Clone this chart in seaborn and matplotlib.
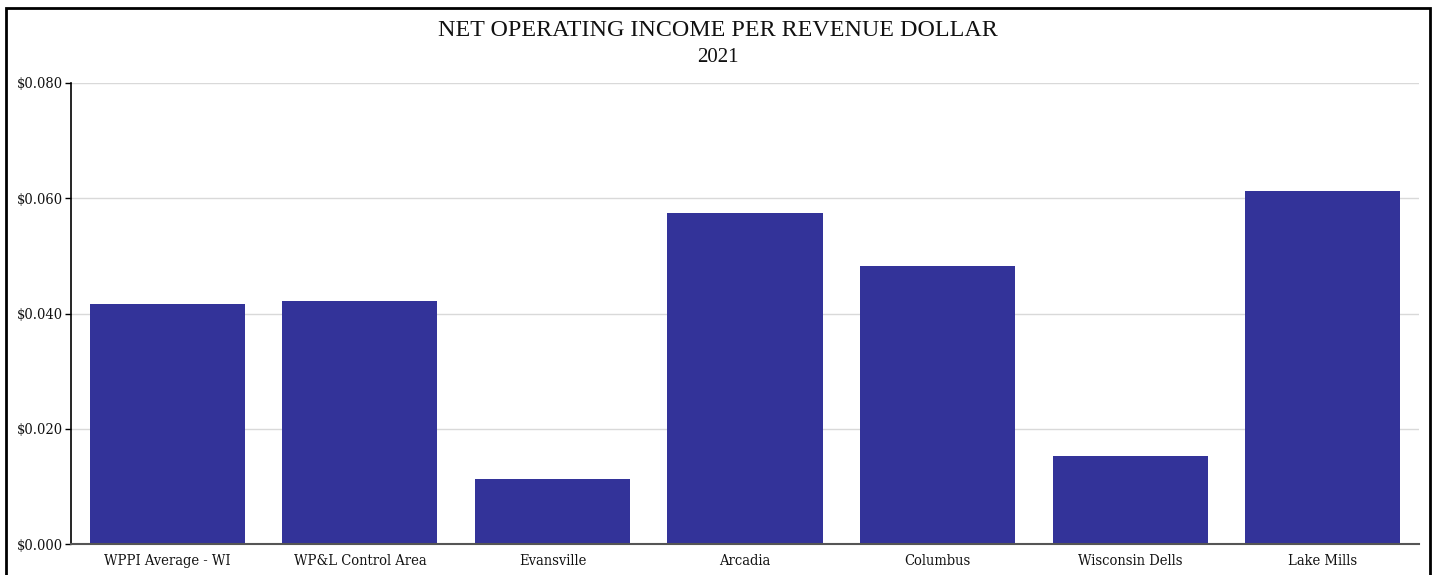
import matplotlib
matplotlib.use("Agg")
import matplotlib.pyplot as plt
import seaborn as sns
import pandas as pd
from matplotlib.patches import Rectangle
from matplotlib.ticker import FuncFormatter, MultipleLocator

categories = ["WPPI Average - WI", "WP&L Control Area", "Evansville", "Arcadia",
              "Columbus", "Wisconsin Dells", "Lake Mills"]
values = [0.0417, 0.0422, 0.0113, 0.0574, 0.0482, 0.0153, 0.0612]

title = "NET OPERATING INCOME PER REVENUE DOLLAR"
subtitle = "2021"

sns.set_theme(style="white")
plt.rcParams["font.family"] = ["Liberation Serif", "DejaVu Serif"]

df = pd.DataFrame({"category": categories, "value": values})

fig = plt.figure(figsize=(14.35, 5.75), dpi=100)
ax = fig.add_axes([71 / 1435, 1 - 544 / 575, 1348 / 1435, 461 / 575])

sns.barplot(data=df, x="category", y="value", color="#333399", saturation=1,
            width=0.805, linewidth=0, ax=ax, zorder=3)

ax.set_ylim(0, 0.08)
ax.yaxis.set_major_locator(MultipleLocator(0.02))
ax.yaxis.set_major_formatter(FuncFormatter(lambda v, p: f"${v:.3f}"))
ax.grid(axis="y", color="#d9d9d9", linewidth=1, zorder=0)
ax.set_axisbelow(True)
ax.set_xlabel("")
ax.set_ylabel("")

for s in ["top", "right"]:
    ax.spines[s].set_visible(False)
ax.spines["left"].set_color("black")
ax.spines["left"].set_linewidth(1.2)
ax.spines["bottom"].set_color("#555555")
ax.spines["bottom"].set_linewidth(1.5)
ax.spines["bottom"].set_zorder(4)

ax.tick_params(axis="y", which="major", left=True, length=4, width=1, color="black",
               pad=2, labelcolor="#111111")
ax.tick_params(axis="x", bottom=False, pad=1, labelcolor="#111111")
for lbl in ax.get_xticklabels() + ax.get_yticklabels():
    lbl.set_family("DejaVu Serif")
    lbl.set_stretch("condensed")
    lbl.set_fontsize(10.5)

fig.text(0.5, 1 - 30 / 575, title, ha="center", va="center", fontsize=17.3, color="#111111")
fig.text(0.5, 1 - 58 / 575, subtitle, ha="center", va="center", fontsize=15, color="#111111")

fig.patches.append(Rectangle((6 / 1435, -0.02), 1424 / 1435, 1 - 8 / 575 + 0.02,
                             transform=fig.transFigure, fill=False,
                             edgecolor="black", linewidth=2))

fig.savefig("out.png", dpi=100)
